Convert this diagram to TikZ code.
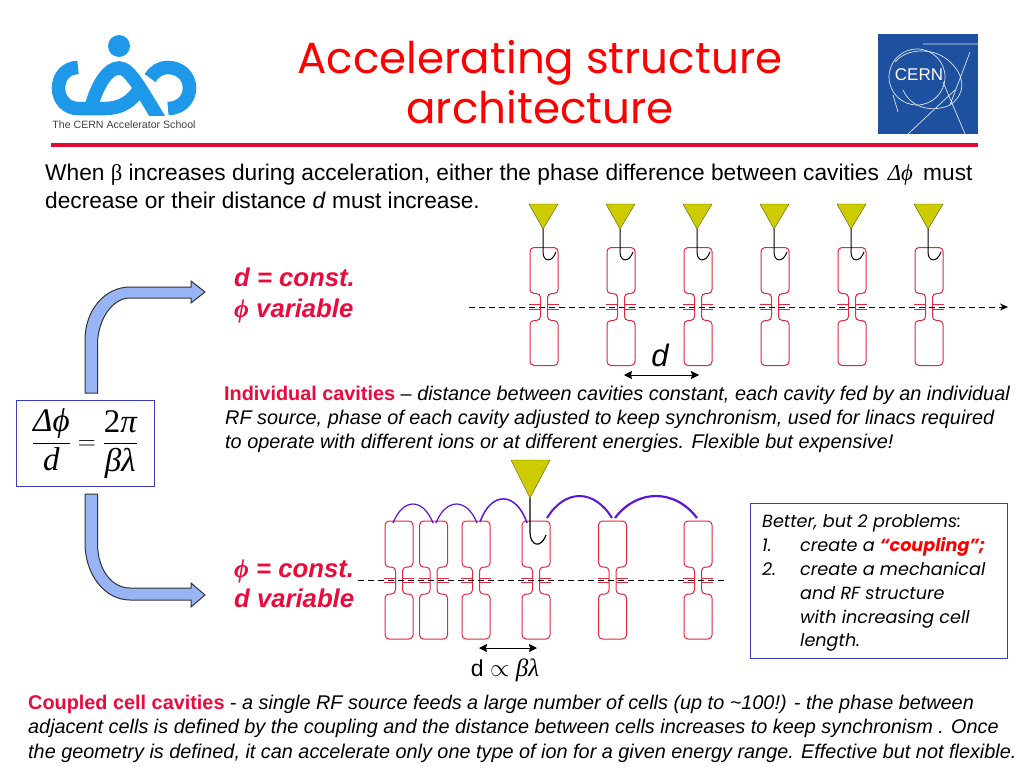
\documentclass[tikz,border=0pt]{standalone}
\usepackage{amsmath,amssymb}
\usepackage{fontspec}
\setmainfont{Liberation Sans}
\newfontfamily\titlefont{Poppins}
\newfontfamily\serifgreek{Liberation Serif}
\newcommand{\gk}[1]{{\serifgreek\itshape\symbol{#1}}}
\definecolor{casblue}{RGB}{30,152,232}
\definecolor{cernblue}{RGB}{30,80,160}
\definecolor{slidered}{RGB}{230,10,50}
\definecolor{textred}{RGB}{235,10,60}
\definecolor{cavred}{RGB}{225,40,60}
\definecolor{feedolive}{RGB}{204,204,0}
\definecolor{couplepurple}{RGB}{90,20,220}
\definecolor{arrowblue}{RGB}{153,180,245}
\definecolor{boxblue}{RGB}{60,60,190}
\usetikzlibrary{arrows.meta,positioning,shapes.geometric,calc}
\newcommand{\cavity}[2]{%
  % one cell: x centre, y of upper edge
  \draw[cavred, line width=1pt, rounded corners=4pt]
    (#1-14,#2) -- (#1+14,#2) -- (#1+14,#2+46) -- (#1+3.5,#2+46) -- (#1+3.5,#2+73)
    -- (#1+14,#2+73) -- (#1+14,#2+118) -- (#1-14,#2+118) -- (#1-14,#2+73)
    -- (#1-3.5,#2+73) -- (#1-3.5,#2+46) -- (#1-14,#2+46) -- cycle;
  \draw[cavred, line width=1pt] (#1-15,#2+57) -- (#1-3.5,#2+57) (#1-15,#2+61.5) -- (#1-3.5,#2+61.5)
    (#1+3.5,#2+57) -- (#1+15,#2+57) (#1+3.5,#2+61.5) -- (#1+15,#2+61.5);
}
\begin{document}
\begin{tikzpicture}[x=1pt, y=-1pt,
    bodytext/.style={anchor=base west, inner sep=0pt, font=\fontsize{22.7}{27}\selectfont},
    desctext/.style={anchor=base west, inner sep=0pt, font=\fontsize{19.85}{24}\selectfont\itshape},
    redhead/.style={anchor=base west, inner sep=0pt, text=textred, font=\fontsize{25.7}{30}\selectfont\bfseries\itshape},
    remarktext/.style={anchor=base west, inner sep=0pt, font=\fontsize{17.6}{22}\titlefont\itshape},
    feed/.style={draw=black!60!feedolive, fill=feedolive, line width=0.4pt},
    feedwire/.style={black, line width=1pt},
    couple/.style={couplepurple, line width=#1},
    bigarrow/.style={draw=black!80, fill=arrowblue, line width=1pt},
    dimarrow/.style={{Stealth[length=8pt,width=8pt,inset=1pt]}-{Stealth[length=8pt,width=8pt,inset=1pt]}, line width=1pt},
    beamline/.style={dash pattern=on 6pt off 4pt, line width=1pt}
  ]
    \useasboundingbox (0,0) rectangle (1024,768);
    % Logos
    \fill[cernblue] (878,34) rectangle (978,134);
    \node[text=white, font=\fontsize{17}{17}\selectfont, inner sep=0pt] (cern) at (919,75) {CERN};
    \draw[white!85!cernblue, line width=0.7pt] (917,77) circle (28);
    \draw[white!85!cernblue, line width=0.7pt] (923,44) -- (978,44)
      (895,62) .. controls (905,50) and (925,48) .. (940,55) .. controls (960,65) and (972,90) .. (950,105) .. controls (935,112) and (912,110) .. (903,90)
      (943,82) -- (965,134) (970,52) -- (950,105) (908,134) -- (955,90) (893,95) -- (898,112);
    \fill[casblue] (119,46) circle (11);
    \begin{scope}
      \clip (40,30) rectangle (200,115);
      \draw[casblue, line width=13.5pt] (78,67.5) .. controls (66,67.5) and (58.5,77) .. (58.5,88) .. controls (58.5,100) and (67,108.5) .. (78,108.5) -- (105,108.5) .. controls (120,108.5) and (132,102) .. (140,88);
      \draw[casblue, line width=13.5pt] (92,104) .. controls (98,84) and (108,68) .. (119,68) .. controls (130,68) and (140,88) .. (162,124);
      \draw[casblue, line width=13.5pt] (168,108.5) .. controls (180,108.5) and (189.5,100) .. (189.5,88) .. controls (189.5,76) and (180,67.5) .. (168,67.5) .. controls (160,67.5) and (155,71) .. (150,78);
    \end{scope}
    \node[text=black!75, font=\fontsize{10.6}{11}\selectfont, inner sep=0pt] (school) at (124,125) {The CERN Accelerator School};
    % Title
    \node[text=red, align=center, font=\fontsize{43.6}{50}\titlefont, inner sep=0pt] (title) at (540,82)
      {Accelerating structure\\architecture};
    \fill[slidered] (51,143) rectangle (978,147);
    % Intro
    \node[bodytext] (intro1) at (45,180)
      {When {\serifgreek\symbol{"03B2}} increases during acceleration, either the phase difference between cavities\hspace{2.5pt} \gk{"0394}\gk{"03D5}\hspace{4pt} must};
    \node[bodytext] (intro2) at (45,208) {decrease or their distance \textit{d} must increase.};
    % Equation and arrows
    \node[draw=boxblue, line width=0.7pt, fill=white, inner sep=0pt, minimum width=138pt, minimum height=86pt, font=\fontsize{33}{38}\selectfont] (eqn) at (85,443.5)
      {$\dfrac{\mbox{\gk{"0394}\gk{"03D5}}}{\mbox{\serifgreek\itshape d}}=\dfrac{\mbox{\serifgreek 2\itshape\symbol{"03C0}}}{\mbox{\gk{"03B2}\gk{"03BB}}}$};
    \draw[bigarrow] (85,393) -- (85,340) .. controls (85,310) and (105,287) .. (130,287) -- (191,287) -- (191,281) -- (205,292) -- (191,303) -- (191,298) -- (130,298) .. controls (112,298) and (97.5,320) .. (97.5,345) -- (97.5,393) -- cycle;
    \draw[bigarrow] (85,494) -- (85,543) .. controls (85,575) and (105,600) .. (130,600) -- (191,600) -- (191,607) -- (205,595) -- (191,583) -- (191,588) -- (130,588) .. controls (112,588) and (97.5,570) .. (97.5,543) -- (97.5,494) -- cycle;
    % Upper scheme
    \node[redhead] (dconst) at (234,286) {d = const.};
    \node[redhead] (phivar) at (234,317) {\gk{"03D5} variable};
    \foreach \x in {544,621,698,775,852,929} {
      \cavity{\x}{247.5}
      \fill[feed] (\x-15,204) -- (\x+14,204) -- (\x-1,229) -- cycle;
      \draw[feedwire] (\x-1,229) -- (\x-1,252) .. controls (\x-1,262) and (\x+8,263) .. (\x+12,252);
    }
    \coordinate (beamAstart) at (469,307);
    \coordinate (beamAend) at (1008,307);
    \draw[beamline, -{Stealth[length=8pt,width=7pt]}] (beamAstart) -- (beamAend);
    \node[anchor=base, font=\fontsize{31}{32}\selectfont\itshape, inner sep=0pt] (dlabel) at (660,366) {d};
    \coordinate (dAleft) at (624,375);
    \coordinate (dAright) at (699,375);
    \draw[dimarrow] (dAleft) -- (dAright);
    % Individual cavities text
    \node[desctext] (ind1) at (224,400) {\textcolor{textred}{\upshape\bfseries Individual cavities} \upshape– \itshape distance between cavities constant, each cavity fed by an individual};
    \node[desctext] (ind2) at (225,424) {RF source, phase of each cavity adjusted to keep synchronism, used for linacs required};
    \node[desctext] (ind3) at (225,448) {to operate with different ions or at different energies. Flexible but expensive!};
    % Lower scheme
    \node[redhead] (phiconst) at (234,577) {\gk{"03D5} = const.};
    \node[redhead] (dvar) at (234,607) {d variable};
    \foreach \x in {399,433.5,476,536,612.5,698} {
      \cavity{\x}{521}
    }
    \coordinate (beamBstart) at (358,580);
    \coordinate (beamBend) at (726,580);
    \draw[beamline] (beamBstart) -- (beamBend);
    \fill[feed] (511,460) -- (550,460) -- (530,498) -- cycle;
    \draw[feedwire, line width=1.2pt] (530,498) -- (530,532) .. controls (530,546) and (541,549) .. (546,535);
    \draw[couple=1.2pt] (393,523) .. controls (403,497.7) and (423,497.7) .. (433,523);
    \draw[couple=1.2pt] (436,523) .. controls (446,497.7) and (467,497.7) .. (477,523);
    \draw[couple=1.5pt] (480,522) .. controls (491,491) and (516,491) .. (527,523);
    \draw[couple=2pt] (547,518) .. controls (565,488.7) and (594,488.7) .. (612,518);
    \draw[couple=2.2pt] (615,518) .. controls (637,488.7) and (675,488.7) .. (697,518);
    \coordinate (dBleft) at (479,648);
    \coordinate (dBright) at (537,648);
    \draw[dimarrow] (dBleft) -- (dBright);
    \node[anchor=base, font=\fontsize{23}{24}\selectfont, inner sep=0pt] (dprop) at (505,676) {d $\propto$ {\fontsize{25}{26}\selectfont\gk{"03B2}\gk{"03BB}}};
    % Remark box
    \node[draw=boxblue, line width=0.7pt, fill=white, anchor=north west, inner sep=0pt, minimum width=257pt, minimum height=155pt] (remark) at (750,503) {};
    \node[remarktext] (rem0) at (762,527) {Better, but 2 problems:};
    \node[remarktext] (rem1) at (762,551) {1.};
    \node[remarktext] (rem1t) at (800,551) {create a \textcolor{red}{\bfseries“coupling”;}};
    \node[remarktext] (rem2) at (762,575) {2.};
    \node[remarktext] (rem2a) at (800,575) {create a mechanical};
    \node[remarktext] (rem2b) at (800,599) {and RF structure};
    \node[remarktext] (rem2c) at (800,623) {with increasing cell};
    \node[remarktext] (rem2d) at (800,646) {length.};
    % Coupled cell text
    \node[desctext] (cpl1) at (28,709) {\textcolor{textred}{\upshape\bfseries Coupled cell cavities} \upshape- \itshape a single RF source feeds a large number of cells (up to \textasciitilde100!) - the phase between};
    \node[desctext] (cpl2) at (28,733) {adjacent cells is defined by the coupling and the distance between cells increases to keep synchronism . Once};
    \node[desctext] (cpl3) at (28,758) {the geometry is defined, it can accelerate only one type of ion for a given energy range. Effective but not flexible.};
\end{tikzpicture}
\end{document}
